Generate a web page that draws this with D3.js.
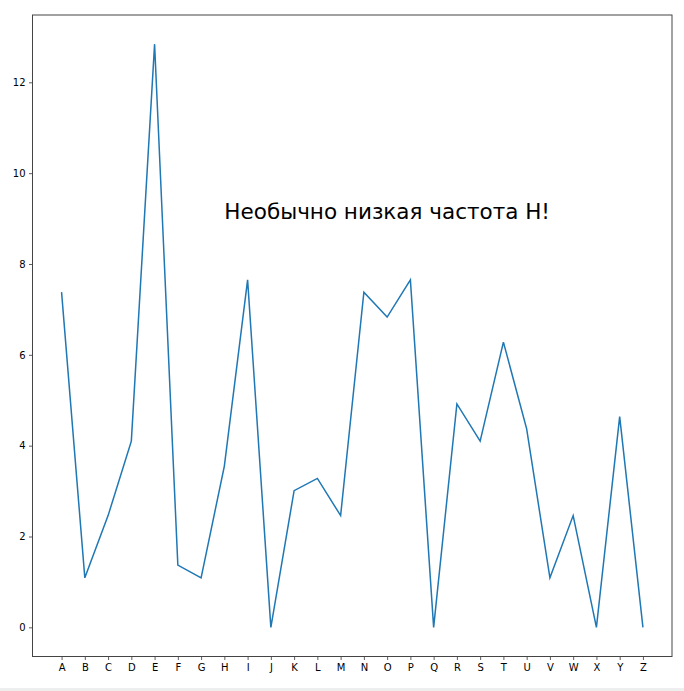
<!DOCTYPE html>
<html><head><meta charset="utf-8">
<script src="https://cdn.jsdelivr.net/npm/d3@7"></script>
<style>body{margin:0;background:#fff}svg{display:block}text{font-family:"DejaVu Sans",sans-serif}</style>
</head><body>
<script>
const letters = ["A","B","C","D","E","F","G","H","I","J","K","L","M","N","O","P","Q","R","S","T","U","V","W","X","Y","Z"];
const freq = [7.38,1.09,2.46,4.10,12.84,1.37,1.09,3.55,7.65,0,3.01,3.28,2.46,7.38,6.83,7.65,0,4.92,4.10,6.28,4.37,1.09,2.46,0,4.64,0];
const yTicks = [0,2,4,6,8,10,12];
const note = {text:"Необычно низкая частота H!", x:7, y:9};

const W=684,H=691, L=32.5, R=672, T=15, B=656.5;
const svg = d3.select("body").append("svg").attr("width",W).attr("height",H);
const n = letters.length;
const pad = (n-1)*0.05;
const x = d3.scaleLinear().domain([-pad, n-1+pad]).range([L,R]);
const ymax = d3.max(freq), ypad = ymax*0.05;
const y = d3.scaleLinear().domain([-ypad, ymax+ypad]).range([B,T]);

svg.append("rect").attr("x",0).attr("y",688).attr("width",W).attr("height",3).attr("fill","#eee");

const line = d3.line().x((d,i)=>x(i)).y(d=>y(d));
svg.append("path").datum(freq).attr("d",line).attr("fill","none").attr("stroke","#1f77b4").attr("stroke-width",1.5).attr("stroke-linejoin","miter");

const xa = svg.append("g").attr("transform",`translate(0,${B})`)
  .call(d3.axisBottom(x).tickValues(d3.range(n)).tickFormat(i=>letters[i]).tickSize(3.5).tickSizeOuter(0).tickPadding(3.5));
const ya = svg.append("g").attr("transform",`translate(${L},0)`)
  .call(d3.axisLeft(y).tickValues(yTicks).tickSize(3.5).tickSizeOuter(0).tickPadding(3.5));
[xa,ya].forEach(g=>{g.select(".domain").remove();g.selectAll("text").attr("font-size",10).attr("fill","#000").attr("font-family","DejaVu Sans");g.selectAll("line").attr("stroke","#333").attr("stroke-width",0.8);});

svg.append("rect").attr("x",L).attr("y",T).attr("width",R-L).attr("height",B-T).attr("fill","none").attr("stroke","#444").attr("stroke-width",1);

svg.append("text").attr("x",x(note.x)).attr("y",y(note.y)).attr("font-size",21.5).attr("fill","#000").text(note.text);
</script>
</body></html>
